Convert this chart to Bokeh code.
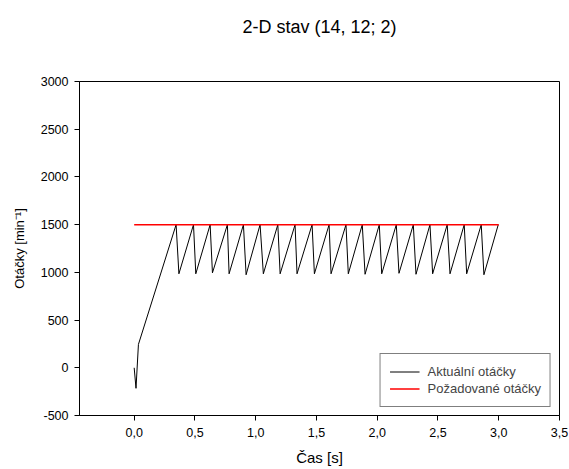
from bokeh.plotting import figure
from bokeh.models import Range1d, Legend, LegendItem, LinearAxis, FixedTicker
from bokeh.embed import file_html
from bokeh.resources import INLINE

# ---- data ----
title_text = "2-D stav (14, 12; 2)"
x_label = "Čas [s]"
y_label = "Otáčky [min⁻¹]"
series_names = ["Aktuální otáčky", "Požadované otáčky"]

x_ticks = [0.0, 0.5, 1.0, 1.5, 2.0, 2.5, 3.0, 3.5]
y_ticks = [-500, 0, 500, 1000, 1500, 2000, 2500, 3000]

# start-up transient of actual speed
start_t = [0.0, 0.015, 0.035]
start_n = [0, -215, 245]
# sawtooth: peaks (reach set-point) and troughs
peak_t = [0.345, 0.488, 0.625, 0.767, 0.899, 1.036, 1.182, 1.324, 1.464, 1.604,
          1.743, 1.877, 2.017, 2.157, 2.297, 2.434, 2.576, 2.716, 2.856, 2.996]
peak_n = [1500, 1500, 1500, 1500, 1500, 1500, 1500, 1500, 1500, 1500,
          1500, 1500, 1500, 1500, 1500, 1500, 1500, 1500, 1500, 1500]
trough_t = [0.368, 0.507, 0.644, 0.781, 0.921, 1.063, 1.201, 1.340, 1.483, 1.620,
            1.762, 1.900, 2.037, 2.179, 2.319, 2.456, 2.599, 2.736, 2.878]
trough_n = [985, 985, 995, 985, 975, 985, 985, 985, 985, 985,
            985, 980, 985, 990, 980, 985, 985, 985, 975]

set_t = [0.0, 3.0]
set_n = [1500, 1500]

# build the actual-speed polyline
act_t = list(start_t)
act_n = list(start_n)
for i in range(len(peak_t)):
    act_t.append(peak_t[i]); act_n.append(peak_n[i])
    if i < len(trough_t):
        act_t.append(trough_t[i]); act_n.append(trough_n[i])

FONT = "Liberation Sans"

p = figure(output_backend="svg", toolbar_location=None,
           frame_width=480, frame_height=334,
           min_border_left=79, min_border_right=10,
           min_border_top=81, min_border_bottom=54,
           x_range=Range1d(-0.45, 3.5), y_range=Range1d(-500, 3000))
p.background_fill_color = "white"
p.border_fill_color = "white"
p.outline_line_color = "black"
p.outline_line_width = 1
p.xgrid.visible = False
p.ygrid.visible = False

r_act = p.line(act_t, act_n, line_color="black", line_width=1)
r_set = p.line(set_t, set_n, line_color="#ff0000", line_width=1.5)

for ax in (p.xaxis[0], p.yaxis[0]):
    ax.axis_line_color = "black"
    ax.major_tick_out = 5
    ax.major_tick_in = 0
    ax.minor_tick_out = 0
    ax.minor_tick_in = 0
    ax.major_label_text_font = FONT
    ax.major_label_text_font_size = "12.5px"
    ax.major_label_text_color = "black"
    ax.axis_label_text_font = FONT
    ax.axis_label_text_font_style = "normal"
    ax.axis_label_text_color = "black"

p.xaxis[0].ticker = FixedTicker(ticks=x_ticks)
p.xaxis[0].major_label_overrides = {t: f"{t:.1f}".replace(".", ",") for t in x_ticks}
p.xaxis[0].major_label_standoff = 7
p.xaxis[0].axis_label = x_label
p.xaxis[0].axis_label_text_font_size = "15px"
p.xaxis[0].axis_label_standoff = 9

p.yaxis[0].ticker = FixedTicker(ticks=y_ticks)
p.yaxis[0].major_label_overrides = {t: str(t) for t in y_ticks}
p.yaxis[0].major_label_standoff = 6
p.yaxis[0].axis_label = y_label
p.yaxis[0].axis_label_text_font_size = "13px"
p.yaxis[0].axis_label_standoff = 11

# chart title, drawn as the label of a bare axis above the frame
title_axis = LinearAxis(ticker=FixedTicker(ticks=[]), axis_label=title_text,
                        axis_line_color=None, major_tick_out=0, major_tick_in=0,
                        minor_tick_out=0, minor_tick_in=0,
                        major_label_standoff=0, major_label_text_font_size="0px",
                        axis_label_standoff=45, axis_label_text_font=FONT,
                        axis_label_text_font_size="18px",
                        axis_label_text_font_style="normal",
                        axis_label_text_color="black")
p.add_layout(title_axis, "above")

legend = Legend(items=[LegendItem(label=series_names[0], renderers=[r_act]),
                       LegendItem(label=series_names[1], renderers=[r_set])],
                location="bottom_right")
legend.margin = 8
legend.padding = 9
legend.spacing = 0
legend.glyph_width = 30
legend.glyph_height = 17
legend.label_height = 17
legend.label_standoff = 8
legend.label_text_font = FONT
legend.label_text_font_size = "13px"
legend.border_line_color = "black"
legend.border_line_width = 1
legend.background_fill_alpha = 1
p.add_layout(legend, "center")

open("out.html", "w").write(file_html(p, INLINE))
